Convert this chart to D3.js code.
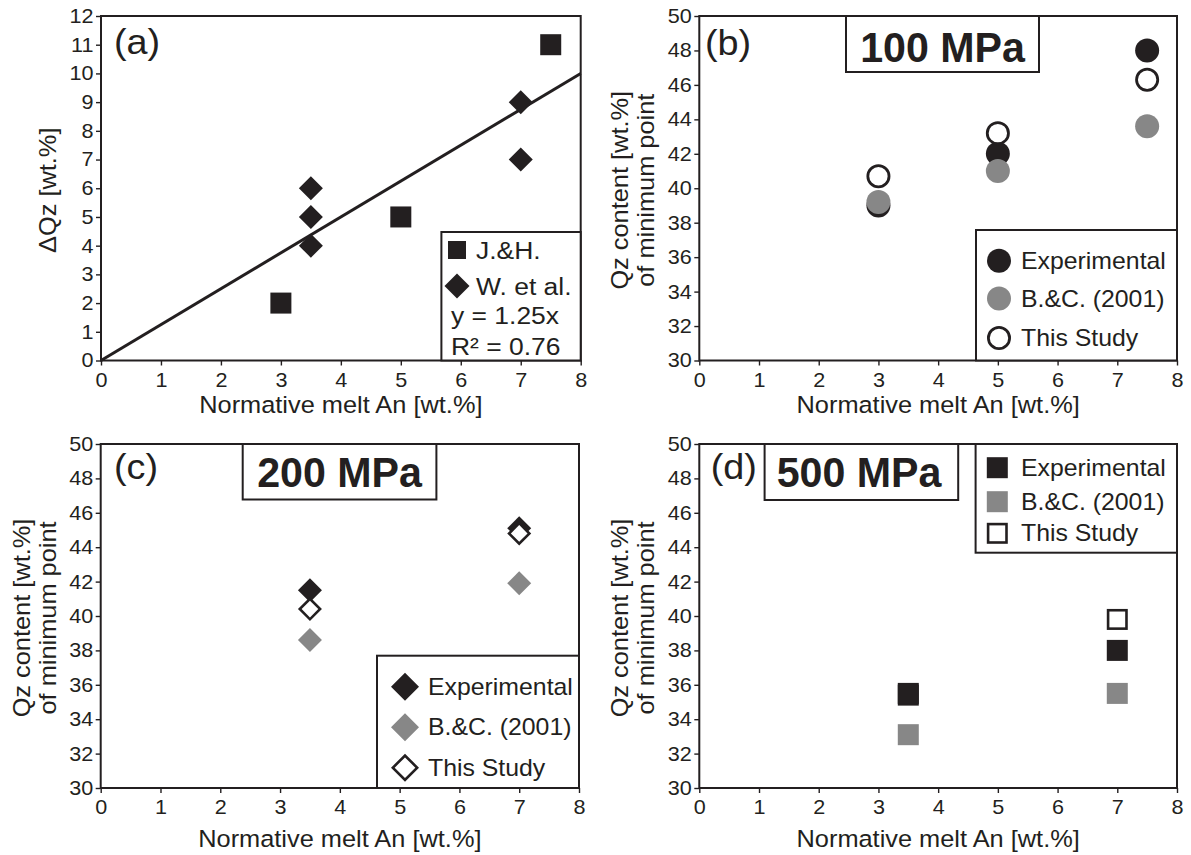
<!DOCTYPE html>
<html><head><meta charset="utf-8">
<script src="https://cdn.jsdelivr.net/npm/d3@7"></script>
<style>
html,body{margin:0;padding:0;background:#fff;}
svg{display:block;font-family:"Liberation Sans",Arial,sans-serif;}
</style></head>
<body><svg id="c" width="1191" height="855"></svg>
<script>
// ---------- DATA ----------
const xTicks = [0,1,2,3,4,5,6,7,8];
const yTicksA = [0,1,2,3,4,5,6,7,8,9,10,11,12];
const yTicksQ = [30,32,34,36,38,40,42,44,46,48,50];

// (a)
const aJHx = [3,5,7.5],            aJHy = [2,5,11];
const aWx  = [3.5,3.5,3.5,7,7],    aWy  = [6,5,4,9,7];
const aFitX = [0,8],               aFitY = [0,10];
const aLegendText = ["J.&H.","W. et al.","y = 1.25x","R² = 0.76"];

// (b) 100 MPa
const bX     = [3,5,7.5];
const bExp   = [39,42,48];
const bBC    = [39.2,41,43.6];
const bThis  = [40.7,43.2,46.3];
// (c) 200 MPa
const cX     = [3.5,7];
const cExp   = [41.5,45.1];
const cBC    = [38.6,41.9];
const cThis  = [40.4,44.8];
// (d) 500 MPa
const dX     = [3.5,7];
const dExp   = [35.5,38];
const dBC    = [33.1,35.5];
const dThis  = [35.4,39.8];

const seriesNames = ["Experimental","B.&C. (2001)","This Study"];
const xTitle = "Normative melt An [wt.%]";
const yTitleQ = ["Qz content [wt.%]","of minimum point"];
const yTitleA = "ΔQz [wt.%]";

// ---------- STYLE ----------
const BLACK = "#231f20", GRAY = "#878787";
const SX = 1.08;
const svg = d3.select("#c");

function T(g, x, y, s, o={}) {
  const t = g.append("text")
    .attr("transform", `translate(${x},${y}) rotate(${o.rot||0}) scale(${o.sx||SX},1)`)
    .attr("text-anchor", o.anchor||"start")
    .attr("font-size", o.size||22)
    .attr("font-weight", o.weight||"normal")
    .attr("fill", BLACK)
    .text(s);
  if (o.dy) t.attr("dy", o.dy);
  return t;
}

function panel(box, yDomain, yTicks) {
  const x = d3.scaleLinear().domain([0,8]).range([box.l, box.r]);
  const y = d3.scaleLinear().domain(yDomain).range([box.b, box.t]);
  const g = svg.append("g");
  const gx = g.append("g").attr("transform", `translate(0,${box.b})`)
    .call(d3.axisBottom(x).tickValues(xTicks).tickSize(5).tickPadding(7).tickFormat(d3.format("d")));
  const gy = g.append("g").attr("transform", `translate(${box.l},0)`)
    .call(d3.axisLeft(y).tickValues(yTicks).tickSize(5).tickPadding(2).tickFormat(d3.format("d")));
  [gx,gy].forEach(a => {
    a.select(".domain").remove();
    a.selectAll(".tick line").attr("stroke", BLACK).attr("stroke-width", 1.4);
    a.selectAll(".tick text").attr("font-size", 20).attr("fill", BLACK)
      .attr("font-family", '"Liberation Sans",Arial,sans-serif')
      .attr("transform", `scale(${SX},1)`);
  });
  const marks = g.append("g");
  g.append("rect").attr("x", box.l).attr("y", box.t)
    .attr("width", box.r-box.l).attr("height", box.b-box.t)
    .attr("fill", "none").attr("stroke", BLACK).attr("stroke-width", 2);
  T(g, (box.l+box.r)/2, box.xt, xTitle, {anchor:"middle", size:23.5});
  return {x, y, g, marks};
}

function drawMark(sel, shape, cx, cy, fill, open, size) {
  if (shape === "circle") {
    sel.append("circle").attr("cx", cx).attr("cy", cy)
      .attr("r", open ? size-1.4 : size)
      .attr("fill", open ? "#fff" : fill)
      .attr("stroke", open ? BLACK : "none").attr("stroke-width", 2.8);
  } else {
    const side = shape === "square" ? size : size/Math.SQRT2;
    const s = open ? side-2.6 : side;
    sel.append("rect").attr("x", -s/2).attr("y", -s/2).attr("width", s).attr("height", s)
      .attr("transform", `translate(${cx},${cy}) rotate(${shape==="diamond"?45:0})`)
      .attr("fill", open ? "#fff" : fill)
      .attr("stroke", open ? BLACK : "none").attr("stroke-width", 2.6);
  }
}

function yTitle2(g, box) {
  const cy = (box.t+box.b)/2 + 2;
  T(g, box.l-71, cy, yTitleQ[0], {anchor:"middle", rot:-90, size:23.5});
  T(g, box.l-45, cy, yTitleQ[1], {anchor:"middle", rot:-90, size:23.5});
}

function labelBox(g, b, label, tx, ty) {
  g.append("rect").attr("x", b.l).attr("y", b.t).attr("width", b.r-b.l).attr("height", b.b-b.t)
    .attr("fill", "#fff").attr("stroke", BLACK).attr("stroke-width", 2);
  T(g, tx, ty, label, {anchor:"middle", size:42, weight:"bold", sx:0.98});
}

// ---------- PANEL A ----------
{
  const box = {l:101, r:580.7, t:16, b:360.5, xt:413};
  const P = panel(box, [0,12], yTicksA);
  P.marks.append("path")
    .attr("d", d3.line()(aFitX.map((v,i)=>[P.x(v), P.y(aFitY[i])])))
    .attr("stroke", BLACK).attr("stroke-width", 3).attr("fill","none");
  aJHx.forEach((v,i)=>drawMark(P.marks,"square",P.x(v),P.y(aJHy[i]),BLACK,false,21));
  aWx.forEach((v,i)=>drawMark(P.marks,"diamond",P.x(v),P.y(aWy[i]),BLACK,false,24));
  T(P.g, 114, 54, "(a)", {size:35});
  T(P.g, box.l-45, (box.t+box.b)/2+2, yTitleA, {anchor:"middle", rot:-90, size:23.5});
  const L = {l:441.4, r:580.7, t:232, b:360.5};
  P.g.append("rect").attr("x",L.l).attr("y",L.t).attr("width",L.r-L.l).attr("height",L.b-L.t)
    .attr("fill","#fff").attr("stroke",BLACK).attr("stroke-width",2);
  drawMark(P.g,"square",457,250,BLACK,false,18);
  drawMark(P.g,"diamond",457,286,BLACK,false,25);
  T(P.g, 476, 250, aLegendText[0], {size:24.5, dy:"0.35em"});
  T(P.g, 476, 286, aLegendText[1], {size:24.5, dy:"0.35em"});
  T(P.g, 451, 324, aLegendText[2], {size:24.5});
  T(P.g, 451, 355, aLegendText[3], {size:24.5});
}

function qzPanel(box, xs, series, shape, order, lab, title, tBox, tText, leg, mSize, legSize) {
  const P = panel(box, [30,50], yTicksQ);
  const fills = [BLACK, GRAY, BLACK];
  const open = [false,false,true];
  order.forEach(si => xs.forEach((v,i)=>
    drawMark(P.marks, shape, P.x(v), P.y(series[si][i]), fills[si], open[si], mSize)));
  T(P.g, lab[0], lab[1], lab[2], {size:35});
  yTitle2(P.g, box);
  labelBox(P.g, tBox, title, tText[0], tText[1]);
  P.g.append("rect").attr("x",leg.l).attr("y",leg.t).attr("width",leg.r-leg.l).attr("height",leg.b-leg.t)
    .attr("fill","#fff").attr("stroke",BLACK).attr("stroke-width",2);
  seriesNames.forEach((n,i)=>{
    drawMark(P.g, shape, leg.mx, leg.ys[i], fills[i], open[i], legSize);
    T(P.g, leg.tx, leg.ys[i], n, {size:23, dy:"0.35em"});
  });
}

// ---------- PANEL B ----------
qzPanel({l:699.3, r:1177, t:16, b:360.5, xt:413}, bX, [bExp,bBC,bThis], "circle", [0,1,2],
  [705, 55, "(b)"], "100 MPa", {l:846, r:1039, t:16, b:72}, [942.5, 62],
  {l:976, r:1177, t:230, b:360.5, mx:999, tx:1021, ys:[260.7,298.5,338]}, 12, 12);

// ---------- PANEL C ----------
qzPanel({l:100.7, r:579, t:444, b:788, xt:847}, cX, [cExp,cBC,cThis], "diamond", [0,1,2],
  [114, 479, "(c)"], "200 MPa", {l:242.7, r:436.4, t:444, b:499.5}, [339.5, 487],
  {l:377, r:579, t:655.7, b:788, mx:405, tx:428, ys:[686.7,727.3,767.7]}, 24, 28);

// ---------- PANEL D ----------
qzPanel({l:699.3, r:1177, t:444, b:788, xt:847}, dX, [dExp,dBC,dThis], "square", [2,1,0],
  [710.7, 479, "(d)"], "500 MPa", {l:764.6, r:958.2, t:444, b:500}, [859, 487],
  {l:975.6, r:1177, t:444, b:552.7, mx:997.3, tx:1021, ys:[467.7,501.7,533.3]}, 21, 21);
</script>
</body></html>
